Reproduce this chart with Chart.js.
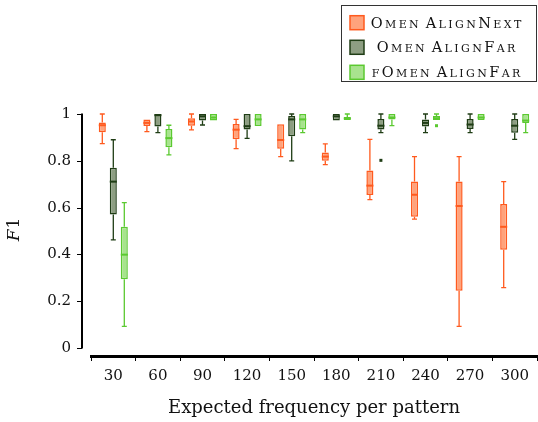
<!DOCTYPE html>
<html>
<head>
<meta charset="utf-8">
<script src="https://cdn.jsdelivr.net/npm/chart.js@4.4.0/dist/chart.umd.min.js"></script>
<style>
  html, body { margin: 0; padding: 0; background: #fff; }
  #wrap { width: 538px; height: 422px; }
</style>
</head>
<body>
<div id="wrap"><canvas id="chart"></canvas></div>
<script>
// Box plot: F1 per expected frequency, three methods.
const CATEGORIES = ['30', '60', '90', '120', '150', '180', '210', '240', '270', '300'];
const Y_TICKS = [0, 0.2, 0.4, 0.6, 0.8, 1];
const SERIES_LABELS = ['Omen AlignNext', 'Omen AlignFar', 'fOmen AlignFar'];

// each entry: [whisker low, q1, median, q3, whisker high]
const NEXT_STATS = [
  [0.873, 0.922, 0.952, 0.964, 1.0],
  [0.925, 0.949, 0.962, 0.977, 0.977],
  [0.932, 0.950, 0.968, 0.982, 1.0],
  [0.852, 0.892, 0.933, 0.957, 0.977],
  [0.818, 0.852, 0.889, 0.956, 0.956],
  [0.784, 0.800, 0.818, 0.836, 0.872],
  [0.634, 0.654, 0.694, 0.759, 0.892],
  [0.551, 0.561, 0.655, 0.712, 0.818],
  [0.093, 0.245, 0.607, 0.712, 0.818],
  [0.258, 0.420, 0.518, 0.615, 0.711],
];
const FAR_STATS = [
  [0.462, 0.571, 0.711, 0.770, 0.890],
  [0.920, 0.947, 0.995, 1.0, 1.0],
  [0.953, 0.972, 0.990, 1.0, 1.0],
  [0.896, 0.934, 0.948, 1.0, 1.0],
  [0.800, 0.905, 0.977, 0.991, 1.0],
  [0.972, 0.972, 0.990, 1.0, 1.0],
  [0.920, 0.934, 0.950, 0.979, 1.0],
  [0.920, 0.947, 0.962, 0.977, 1.0],
  [0.920, 0.936, 0.955, 0.979, 1.0],
  [0.892, 0.920, 0.950, 0.979, 1.0],
];
const FFAR_STATS = [
  [0.093, 0.294, 0.399, 0.518, 0.621],
  [0.825, 0.858, 0.897, 0.936, 0.952],
  [0.972, 0.972, 0.985, 1.0, 1.0],
  [0.949, 0.949, 0.977, 1.0, 1.0],
  [0.920, 0.934, 0.977, 1.0, 1.0],
  [0.974, 0.974, 0.981, 0.987, 1.0],
  [0.950, 0.977, 0.985, 1.0, 1.0],
  [0.974, 0.974, 0.982, 0.991, 1.0],
  [0.974, 0.974, 0.985, 1.0, 1.0],
  [0.920, 0.962, 0.972, 1.0, 1.0],
];
// outliers: [category index, value]
const NEXT_OUTLIERS = [];
const FAR_OUTLIERS = [[6, 0.802]];
const FFAR_OUTLIERS = [[7, 0.950]];

const COLORS = {
  next: { fill: '#FFA37C', line: '#FF5A1E' },
  far: { fill: '#8D9E82', line: '#1F3D15' },
  ffar: { fill: '#A8E38E', line: '#5BC930' },
};
const SERIF = '"DejaVu Serif", "Liberation Serif", serif';

function boxDataset(label, stats, outliers, col) {
  return {
    label,
    data: stats.map(s => [s[1], s[3]]),
    stats, outliers,
    backgroundColor: col.fill,
    borderColor: col.line,
    borderWidth: 1.5,
    borderSkipped: false,
    lineColor: col.line,
  };
}

const whiskerPlugin = {
  id: 'whiskers',
  beforeDatasetsDraw(chart) {
    const ctx = chart.ctx, y = chart.scales.y;
    chart.data.datasets.forEach((ds, di) => {
      const meta = chart.getDatasetMeta(di);
      ctx.save();
      ctx.strokeStyle = ds.lineColor;
      ctx.lineWidth = 1.3;
      meta.data.forEach((bar, i) => {
        const [lo, q1, , q3, hi] = ds.stats[i];
        const cap = 2.5;
        ctx.beginPath();
        if (hi > q3) {
          ctx.moveTo(bar.x, y.getPixelForValue(q3));
          ctx.lineTo(bar.x, y.getPixelForValue(hi));
          ctx.moveTo(bar.x - cap, y.getPixelForValue(hi));
          ctx.lineTo(bar.x + cap, y.getPixelForValue(hi));
        }
        if (lo < q1) {
          ctx.moveTo(bar.x, y.getPixelForValue(q1));
          ctx.lineTo(bar.x, y.getPixelForValue(lo));
          ctx.moveTo(bar.x - cap, y.getPixelForValue(lo));
          ctx.lineTo(bar.x + cap, y.getPixelForValue(lo));
        }
        ctx.stroke();
      });
      ctx.restore();
    });
  },
  afterDatasetsDraw(chart) {
    const ctx = chart.ctx, y = chart.scales.y;
    chart.data.datasets.forEach((ds, di) => {
      const meta = chart.getDatasetMeta(di);
      ctx.save();
      ctx.strokeStyle = ds.lineColor;
      ctx.fillStyle = ds.lineColor;
      ctx.lineWidth = 2;
      meta.data.forEach((bar, i) => {
        const py = y.getPixelForValue(ds.stats[i][2]);
        ctx.beginPath();
        ctx.moveTo(bar.x - bar.width / 2, py);
        ctx.lineTo(bar.x + bar.width / 2, py);
        ctx.stroke();
      });
      ds.outliers.forEach(([i, v]) => {
        const bar = meta.data[i];
        ctx.fillRect(bar.x - 1.5, y.getPixelForValue(v) - 1.5, 3, 3);
      });
      ctx.restore();
    });
  },
};

// draws text in small caps: lowercase letters become smaller capitals
function drawSmallCaps(ctx, text, cx, baseline, big, small, spacing) {
  const parts = [];
  for (const ch of text) {
    const isSmall = ch !== ch.toUpperCase();
    const font = (isSmall ? small : big) + 'px ' + SERIF;
    ctx.font = font;
    const t = ch.toUpperCase();
    parts.push({ t, font, w: ctx.measureText(t).width + (ch === ' ' ? 0 : spacing) });
  }
  const total = parts.reduce((s, p) => s + p.w, 0) - spacing;
  let x = cx - total / 2;
  ctx.textAlign = 'left';
  ctx.textBaseline = 'alphabetic';
  parts.forEach(p => {
    ctx.font = p.font;
    ctx.fillText(p.t, x, baseline);
    x += p.w;
  });
}

const decorPlugin = {
  id: 'decor',
  afterDraw(chart) {
    const ctx = chart.ctx, y = chart.scales.y;
    ctx.save();
    // offset y axis spine with outward ticks
    const ax = 82;
    ctx.strokeStyle = '#000';
    ctx.lineWidth = 2;
    ctx.beginPath();
    ctx.moveTo(ax, y.getPixelForValue(1) - 0.5);
    ctx.lineTo(ax, y.getPixelForValue(0) + 0.5);
    ctx.stroke();
    ctx.lineWidth = 1;
    ctx.beginPath();
    Y_TICKS.forEach(v => {
      const py = Math.round(y.getPixelForValue(v)) + 0.5;
      ctx.moveTo(ax - 5, py);
      ctx.lineTo(ax, py);
    });
    ctx.stroke();

    // y title: italic F, upright 1
    ctx.translate(19, 230);
    ctx.rotate(-Math.PI / 2);
    ctx.fillStyle = '#111';
    ctx.textBaseline = 'alphabetic';
    ctx.textAlign = 'left';
    ctx.font = 'italic 17px ' + SERIF;
    const fw = ctx.measureText('F').width;
    ctx.font = '17px ' + SERIF;
    const ow = ctx.measureText('1').width;
    ctx.font = 'italic 17px ' + SERIF;
    ctx.fillText('F', -(fw + ow) / 2, 0);
    ctx.font = '17px ' + SERIF;
    ctx.fillText('1', -(fw + ow) / 2 + fw + 1, 0);
    ctx.restore();

    // legend box
    ctx.save();
    ctx.fillStyle = '#fff';
    ctx.fillRect(341, 5, 196, 77);
    ctx.strokeStyle = '#333';
    ctx.lineWidth = 1;
    ctx.strokeRect(341.5, 5.5, 195, 76);
    const rows = [22.7, 47.3, 72.3];
    chart.data.datasets.forEach((ds, i) => {
      ctx.fillStyle = ds.backgroundColor;
      ctx.strokeStyle = ds.borderColor;
      ctx.lineWidth = 1.5;
      ctx.fillRect(350, rows[i] - 7, 14, 14);
      ctx.strokeRect(350, rows[i] - 7, 14, 14);
      ctx.fillStyle = '#111';
      drawSmallCaps(ctx, SERIES_LABELS[i], 446, rows[i] + 5, 14.5, 11, 2.4);
    });
    ctx.restore();
  },
};

new Chart(document.getElementById('chart'), {
  type: 'bar',
  data: {
    labels: CATEGORIES,
    datasets: [
      boxDataset(SERIES_LABELS[0], NEXT_STATS, NEXT_OUTLIERS, COLORS.next),
      boxDataset(SERIES_LABELS[1], FAR_STATS, FAR_OUTLIERS, COLORS.far),
      boxDataset(SERIES_LABELS[2], FFAR_STATS, FFAR_OUTLIERS, COLORS.ffar),
    ],
  },
  options: {
    responsive: true,
    maintainAspectRatio: false,
    animation: false,
    layout: { padding: { top: 114, right: 1, left: 0, bottom: 0 } },
    categoryPercentage: 0.74,
    barPercentage: 0.64,
    plugins: { legend: { display: false }, tooltip: { enabled: false } },
    scales: {
      x: {
        grid: { display: true, drawOnChartArea: false, offset: true, color: '#000', lineWidth: 1, tickLength: 5 },
        border: { display: true, color: '#000', width: 3 },
        ticks: { color: '#111', padding: 6, font: { family: SERIF, size: 15 } },
        title: { display: true, text: 'Expected frequency per pattern', color: '#111', padding: { top: 0, bottom: 3 }, font: { family: SERIF, size: 18 } },
        afterFit: (s) => { s.height = 66; },
      },
      y: {
        min: -0.034, max: 1,
        grid: { display: false, drawTicks: false },
        border: { display: false },
        ticks: { color: '#111', padding: 20, font: { family: SERIF, size: 15 }, callback: (v) => String(v) },
        afterBuildTicks: (s) => { s.ticks = Y_TICKS.map(v => ({ value: v })); },
        afterFit: (s) => { s.width = 91; },
      },
    },
  },
  plugins: [whiskerPlugin, decorPlugin],
});
</script>
</body>
</html>
